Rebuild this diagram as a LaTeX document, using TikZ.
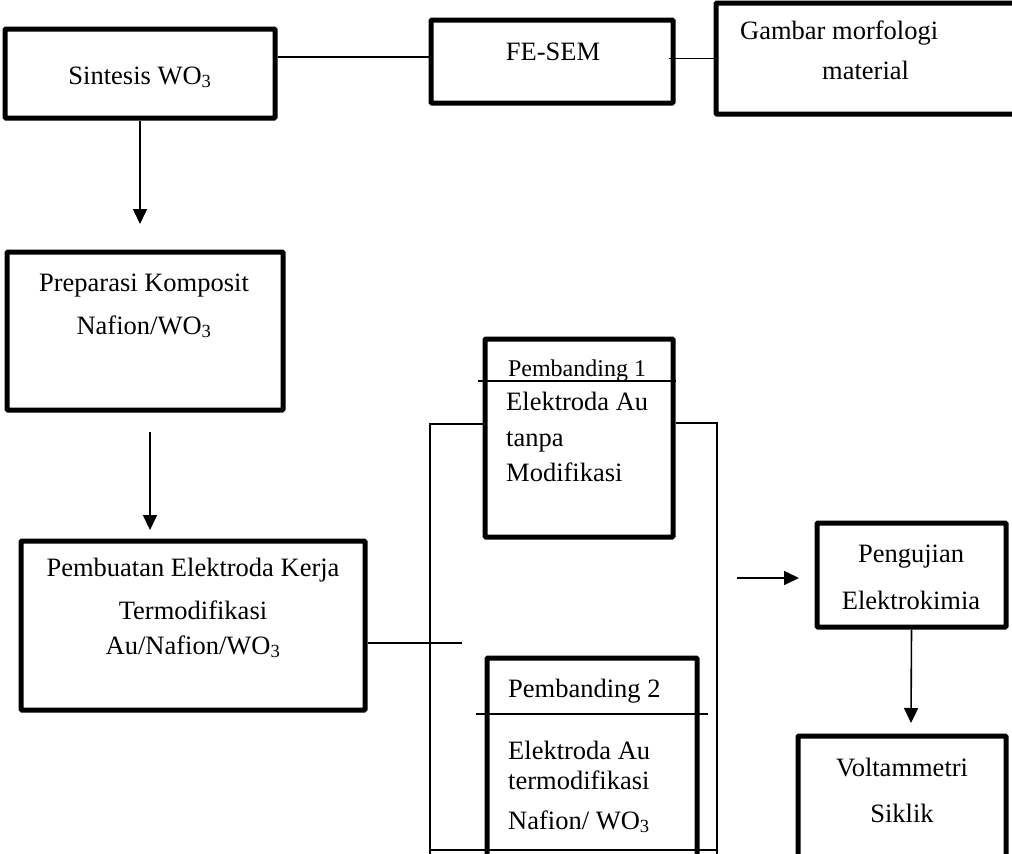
\documentclass[tikz,border=0pt]{standalone}
\usepackage{fontspec}
\setmainfont{Liberation Serif}
\usetikzlibrary{arrows.meta}

\begin{document}
\begin{tikzpicture}[x=1pt, y=-1pt, font=\fontsize{26.5}{32}\selectfont,
		box/.style={draw, line width=5pt, rounded corners=1pt, inner sep=0pt},
		link/.style={line width=1.6pt},
		flow/.style={link, -{Triangle[length=15pt,width=14pt]}},
		txt/.style={inner sep=0pt, anchor=base},
		ltxt/.style={inner sep=0pt, anchor=base west}
		]
		\useasboundingbox (0,0) rectangle (1012,854);
		% boxes
		\node[box, minimum width=270pt, minimum height=89pt] (sintesis) at (140,73.5) {};
		\node[box, minimum width=242pt, minimum height=83pt] (fesem) at (552,61.5) {};
		\node[box, minimum width=300pt, minimum height=111pt] (gambar) at (866,58.5) {};
		\node[box, minimum width=276pt, minimum height=158pt] (preparasi) at (145,331) {};
		\node[box, minimum width=344pt, minimum height=169pt] (pembuatan) at (193,625.5) {};
		\node[box, minimum width=188pt, minimum height=198pt] (banding1) at (579,438) {};
		\node[box, minimum width=210pt, minimum height=212pt] (banding2) at (592,764) {};
		\node[box, minimum width=189pt, minimum height=104pt] (uji) at (911.5,575) {};
		\node[box, minimum width=208pt, minimum height=144pt] (volta) at (902,808) {};
		% texts
		\node[txt] (t-sintesis) at (140,84) {Sintesis WO\textsubscript{3}};
		\node[txt] (t-fesem) at (553,60) {FE-SEM};
		\node[ltxt] (t-gambar1) at (740,39) {Gambar morfologi};
		\node[ltxt] (t-gambar2) at (822,79) {material};
		\node[txt] (t-prep1) at (144,291) {Preparasi Komposit};
		\node[txt] (t-prep2) at (144,334) {Nafion/WO\textsubscript{3}};
		\node[txt] (t-buat1) at (193,576) {Pembuatan Elektroda Kerja};
		\node[txt] (t-buat2) at (193,619) {Termodifikasi};
		\node[txt] (t-buat3) at (193,654) {Au/Nafion/WO\textsubscript{3}};
		\node[txt, font=\fontsize{24}{28}\selectfont] (t-b1a) at (577,376) {Pembanding 1};
		\node[ltxt] (t-b1b) at (506,410) {Elektroda Au};
		\node[ltxt] (t-b1c) at (506,446) {tanpa};
		\node[ltxt] (t-b1d) at (506,481) {Modifikasi};
		\node[ltxt] (t-b2a) at (508,697) {Pembanding 2};
		\node[ltxt] (t-b2b) at (508,759) {Elektroda Au};
		\node[ltxt] (t-b2c) at (508,789) {termodifikasi};
		\node[ltxt] (t-b2d) at (508,829) {Nafion/ WO\textsubscript{3}};
		\node[txt] (t-uji1) at (911,562) {Pengujian};
		\node[txt] (t-uji2) at (911,609) {Elektrokimia};
		\node[txt] (t-volta1) at (902,776) {Voltammetri};
		\node[txt] (t-volta2) at (902,822) {Siklik};
		% free ends
		\coordinate (end1) at (140,224);
		\coordinate (start2) at (150,432);
		\coordinate (end2) at (150,530);
		\coordinate (join) at (462,643);
		\coordinate (lefttop) at (430,424);
		\coordinate (leftbot) at (430,854);
		\coordinate (righttop) at (717,423);
		\coordinate (rightbot) at (717,854);
		\coordinate (start3) at (737,578);
		\coordinate (end3) at (799,578);
		\coordinate (end4) at (911,723);
		% connectors
		\draw[link] ([yshift=4.5pt]fesem.west -| sintesis.east) -- ([yshift=4.5pt]fesem.west);
		\draw[link] ([xshift=-7pt]fesem.east |- gambar.west) -- (gambar.west);
		\draw[flow] (sintesis.south) -- (end1);
		\draw[flow] (start2) -- (end2);
		\draw[link] (pembuatan.east |- join) -- (join);
		\draw[link] (banding1.west |- lefttop) -- (lefttop) -- (leftbot);
		\draw[link] (banding1.east |- righttop) -- (righttop) -- (rightbot);
		\draw[link] (lefttop |- 0,850) -- (righttop |- 0,850);
		\draw[link] ([xshift=-5pt]banding1.west |- 0,381) -- (banding1.east |- 0,381);
		\draw[link] ([xshift=-9pt]banding2.west |- 0,714) -- ([xshift=8pt]banding2.east |- 0,714);
		\draw[flow] (start3) -- (end3);
		\draw[flow] (uji.south) -- (end4);
	\end{tikzpicture}
\end{document}
